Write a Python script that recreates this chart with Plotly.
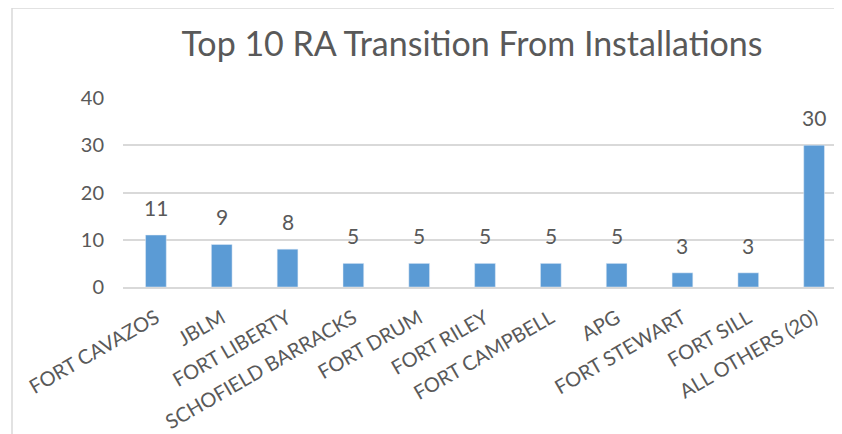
import plotly.graph_objects as go

categories = ["FORT CAVAZOS", "JBLM", "FORT LIBERTY", "SCHOFIELD BARRACKS", "FORT DRUM",
              "FORT RILEY", "FORT CAMPBELL", "APG", "FORT STEWART", "FORT SILL", "ALL OTHERS (20)"]
values = [11, 9, 8, 5, 5, 5, 5, 5, 3, 3, 30]
y_ticks = [0, 10, 20, 30, 40]

FONT = "Lato"
GREY = "#595959"
GRID = "#d9d9d9"

# page body has an 8px offset; compensate in figure coordinates
OFF = 8
W, H = 842, 434
L, R, T, B = 123 - OFF, 3, 98 - OFF, 434 - 287 + OFF
pw, ph = W - L - R, H - T - B

fig = go.Figure(go.Bar(
    x=categories, y=values,
    marker=dict(color="#5B9BD5"),
    hoverinfo="x+y",
))

for c, v in zip(categories, values):
    fig.add_annotation(x=c, y=v, text=str(v), showarrow=False,
                       yanchor="bottom", yshift=13,
                       font=dict(family=FONT, size=21, color=GREY))

fig.update_layout(
    width=W, height=H,
    margin=dict(l=L, r=R, t=T, b=B),
    paper_bgcolor="white", plot_bgcolor="white",
    bargap=0.685,
    showlegend=False,
    title=dict(text="Top 10 RA Transition From Installations",
               font=dict(family=FONT, size=34, color=GREY),
               x=(472 - OFF) / W, xanchor="center", y=1 - (44 - OFF) / H, yanchor="middle"),
    xaxis=dict(tickangle=-30, tickfont=dict(family=FONT, size=20, color=GREY),
               ticklabelstandoff=10,
               showline=True, linecolor=GRID, linewidth=1.5, ticks="", showgrid=False),
    yaxis=dict(range=[0, 40], tickvals=y_ticks, showgrid=True, gridcolor=GRID, gridwidth=1.5,
               zeroline=False, showline=False, ticks="",
               tickfont=dict(family=FONT, size=20, color=GREY), ticklabelstandoff=18),
    shapes=[dict(type="rect", xref="paper", yref="paper",
                 x0=(12 - OFF - L) / pw, x1=(900 - L) / pw,
                 y0=-3, y1=(T + ph - (8 - OFF)) / ph,
                 line=dict(color=GRID, width=1.5), fillcolor="rgba(0,0,0,0)", layer="below")],
)

fig.write_html("out.html")
